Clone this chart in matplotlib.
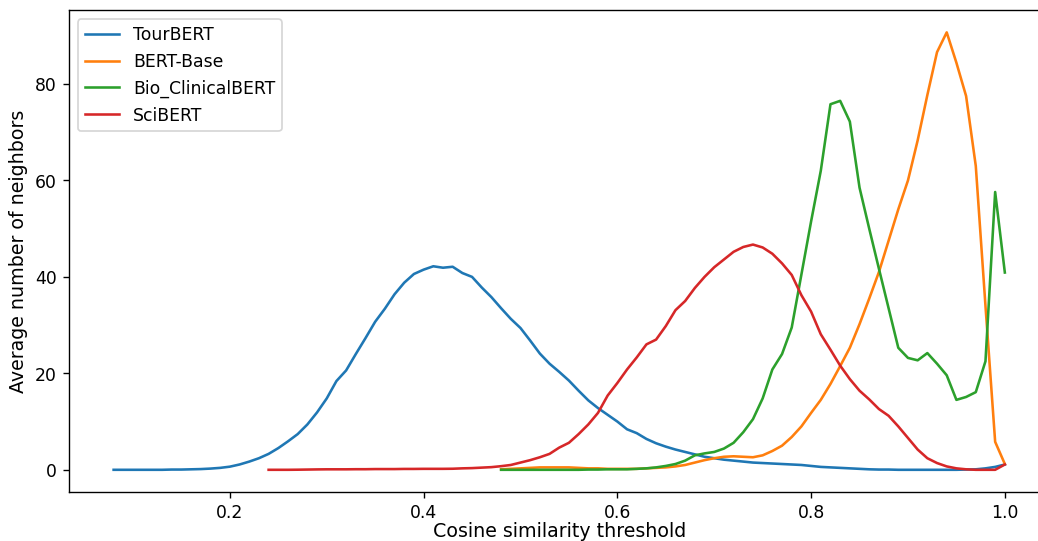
import numpy as np
import matplotlib
matplotlib.use("Agg")
import matplotlib.pyplot as plt

# cosine similarity thresholds (0.01 steps) per model
tour_x = np.round(np.arange(0.08, 1.001, 0.01), 2)
sci_x = np.round(np.arange(0.24, 1.001, 0.01), 2)
base_x = np.round(np.arange(0.48, 1.001, 0.01), 2)
bio_x = np.round(np.arange(0.48, 1.001, 0.01), 2)

tour_bert = [0, 0, 0, 0, 0, 0, 0.05, 0.05,
             0.1, 0.15, 0.25, 0.4, 0.65, 1.1, 1.7, 2.4, 3.3, 4.5,
             5.9, 7.4, 9.4, 11.9, 14.8, 18.4, 20.6, 24.0, 27.3, 30.7,
             33.4, 36.4, 38.8, 40.6, 41.5, 42.2, 41.9, 42.1, 40.8, 40.0,
             37.8, 35.8, 33.5, 31.3, 29.4, 26.8, 24.1, 22.0, 20.3, 18.5,
             16.4, 14.4, 12.8, 11.4, 10.0, 8.4, 7.6, 6.4, 5.5, 4.8,
             4.2, 3.7, 3.2, 2.7, 2.4, 2.1, 1.9, 1.7, 1.5, 1.4,
             1.3, 1.2, 1.1, 1.0, 0.8, 0.6, 0.5, 0.4, 0.3, 0.2, 0.1,
             0.05, 0.05, 0, 0, 0, 0, 0, 0, 0, 0.05,
             0.1, 0.3, 0.6, 1.1]

sci_bert = [0, 0, 0, 0.02, 0.05, 0.08,
            0.1, 0.1, 0.1, 0.12, 0.12, 0.15, 0.15, 0.15, 0.18, 0.18, 0.2,
            0.2, 0.2, 0.22, 0.3, 0.35, 0.45, 0.55, 0.75, 1.0, 1.5,
            2.0, 2.6, 3.3, 4.6, 5.6, 7.4, 9.4, 11.8, 15.4, 18.0,
            20.8, 23.3, 26.0, 27.0, 29.8, 33.1, 35.0, 37.7, 40.0, 42.0,
            43.6, 45.2, 46.2, 46.7, 46.1, 44.8, 42.8, 40.4, 36.2, 32.8,
            28.1, 24.9, 21.6, 18.8, 16.4, 14.6, 12.6, 11.2, 9.0, 6.6,
            4.2, 2.4, 1.4, 0.7, 0.3, 0.1, 0.0, 0.0, 0.0, 1.1]

bert_base = [0.1, 0.2, 0.3, 0.4, 0.5, 0.5, 0.5, 0.5, 0.4, 0.3,
             0.3, 0.2, 0.2, 0.2, 0.2, 0.3, 0.4, 0.5, 0.7, 1.0,
             1.5, 2.0, 2.4, 2.7, 2.8, 2.7, 2.6, 3.0, 3.9, 5.0,
             6.8, 9.0, 11.8, 14.5, 17.8, 21.5, 25.3, 30.2, 35.5, 41.0,
             47.5, 54.0, 60.0, 68.3, 77.7, 86.6, 90.7, 84.4, 77.5, 63.0,
             34.0, 5.8, 1.2]

bio_clinical = [0, 0, 0, 0, 0, 0, 0, 0, 0, 0.05,
                0.05, 0.1, 0.1, 0.1, 0.2, 0.3, 0.5, 0.8, 1.2, 1.9,
                3.0, 3.4, 3.7, 4.4, 5.6, 7.8, 10.5, 14.8, 20.8, 24.0,
                29.5, 40.5, 51.5, 62.0, 75.8, 76.5, 72.2, 58.5, 50.0, 41.7,
                33.5, 25.3, 23.2, 22.7, 24.2, 22.0, 19.6, 14.5, 15.1, 16.1,
                22.5, 57.6, 40.9]

fig = plt.figure(figsize=(1038.5 / 124, 541.5 / 124), dpi=124)
ax = fig.add_axes([0.0665, 0.0911, 0.944, 0.8886])

ax.plot(tour_x, tour_bert, label="TourBERT")
ax.plot(base_x, bert_base, label="BERT-Base")
ax.plot(bio_x, bio_clinical, label="Bio_ClinicalBERT")
ax.plot(sci_x, sci_bert, label="SciBERT")

ax.set_xlabel("Cosine similarity threshold", fontsize=11, labelpad=0)
ax.set_ylabel("Average number of neighbors", fontsize=11)
ax.legend(loc="upper left")

fig.savefig("out.png", dpi=124)
